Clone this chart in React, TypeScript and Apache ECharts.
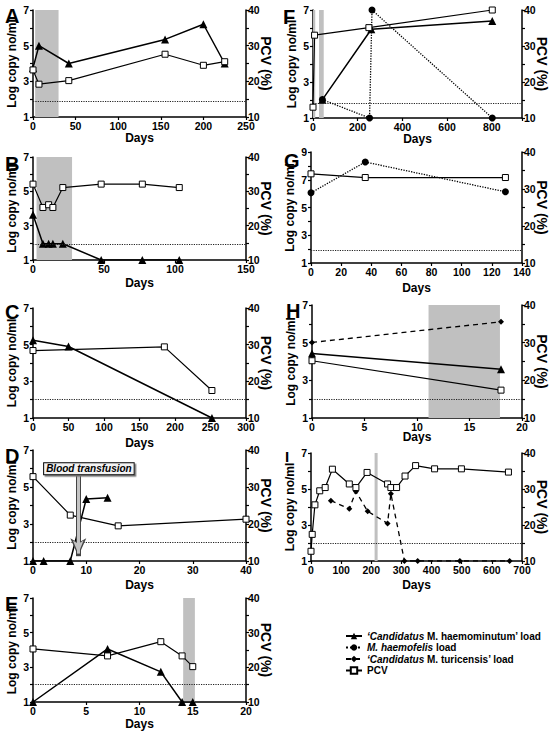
import React, { useEffect, useRef } from 'react';
import * as echarts from 'echarts';

const FONT = "'Liberation Sans', Arial, Helvetica, sans-serif";

// ---------- data (day, value) ----------
// A
const A_hm = [[0, 3.75], [7, 5.0], [42, 4.0], [155, 5.35], [200, 6.2], [225, 4.0]];
const A_pcv = [[0, 23.2], [7, 19.2], [42, 20.2], [155, 27.6], [200, 24.5], [225, 25.5]];
const A_bands = [[2.5, 30]];
// B
const B_hm = [[0, 3.63], [7, 1.95], [11, 1.95], [14, 1.95], [21, 1.95], [48, 1], [77, 1], [103, 1]];
const B_pcv = [[0, 32.1], [7, 25.3], [11, 26.1], [14, 25.3], [21, 31.1], [48, 32.1], [77, 32.1], [103, 31.1]];
const B_bands = [[2.5, 27.5]];
// C
const C_hm = [[0, 5.24], [50, 4.9], [252, 1]];
const C_pcv = [[0, 28.4], [185, 29.4], [252, 17.5]];
// D
const D_hm = [[0, 1], [2, 1], [7, 1], [10, 4.35], [14, 4.42]];
const D_pcv = [[0, 32.8], [7, 22.4], [16, 19.5], [40, 21.3]];
const D_transfusionDay = 8.5;
const D_transfusionLabel = 'Blood transfusion';
// E
const E_hm = [[0, 1], [7, 4.06], [12, 2.74], [14, 1], [15, 1]];
const E_pcv = [[0, 25.3], [7, 23.3], [12, 27.4], [14, 23.3], [15, 20.2]];
const E_bands = [[14.1, 15.2]];
// F
const F_hm = [[42, 2.02], [261, 5.93], [802, 6.39]];
const F_hf = [[42, 2.02], [253, 1], [264, 7], [802, 1]];
const F_pcv = [[0, 13], [7, 33], [250, 35.1], [802, 40]];
const F_bands = [[0, 10], [27, 48]];
// G
const G_hf = [[0, 6.06], [36, 8.28], [129, 6.13]];
const G_pcv = [[0, 34.1], [36, 33.1], [129, 33.1]];
// H
const H_tu = [[0, 5.01], [18, 6.11]];
const H_hm = [[0, 4.43], [18, 3.59]];
const H_pcv = [[0, 25.2], [18, 17.4]];
const H_bands = [[11.1, 17.9]];
// I
const I_pcv = [
  [0, 12.7], [4, 17.4], [13, 25.6], [29, 29.5], [47, 30.4], [71, 35.5], [127, 31.4], [149, 30.4],
  [186, 34.6], [254, 31.4], [265, 30.4], [284, 30.4], [312, 33.6], [347, 36.5], [410, 35.6], [499, 35.6], [655, 34.7],
];
const I_tu = [[66, 4.35], [127, 3.9], [149, 4.86], [188, 3.76], [254, 3.09], [265, 4.74], [310, 1], [354, 1], [494, 1], [659, 1]];
const I_bands = [[211, 221]];

const LEGEND_NAMES = ['hm', 'hf', 'tu', 'pcv'];
const LEGEND_TEXT: Record<string, string> = {
  hm: '{i|‘Candidatus}{b| M. haemominutum’ load}',
  hf: '{i|M. haemofelis}{b| load}',
  tu: '{i|‘Candidatus}{b| M. turicensis’ load}',
  pcv: '{b|PCV}',
};

// ---------- panel layout ----------
const PANELS: any[] = [
  { id: 'A', grid: { left: 33, top: 10, width: 213, height: 107 }, xMax: 250, xStep: 50, yMax: 7, daysGap: 15, lod: 1.9, bands: A_bands, hm: A_hm, pcv: A_pcv, letter: [5, 6, 20] },
  { id: 'B', grid: { left: 33, top: 157, width: 213, height: 103 }, xMax: 150, xStep: 50, yMax: 7, daysGap: 17, lod: 1.92, bands: B_bands, hm: B_hm, pcv: B_pcv, letter: [5, 154, 20] },
  { id: 'C', grid: { left: 33, top: 308, width: 213, height: 110 }, xMax: 300, xStep: 50, yMax: 7, daysGap: 19, lod: 2, bands: [], hm: C_hm, pcv: C_pcv, letter: [5, 302, 20] },
  { id: 'D', grid: { left: 33, top: 450, width: 213, height: 111 }, xMax: 40, xStep: 10, yMax: 7, daysGap: 18, lod: 2, bands: [], hm: D_hm, pcv: D_pcv, letter: [5, 446, 20], transfusion: true },
  { id: 'E', grid: { left: 33, top: 598, width: 213, height: 104 }, xMax: 20, xStep: 5, yMax: 7, daysGap: 16, lod: 2, bands: E_bands, hm: E_hm, pcv: E_pcv, letter: [5, 594, 20] },
  { id: 'F', grid: { left: 313, top: 10, width: 209, height: 108 }, xMax: 935, xStep: 200, yMax: 7, daysGap: 15, lod: 1.8, bands: F_bands, hm: F_hm, hf: F_hf, pcv: F_pcv, letter: [283, 7, 20] },
  { id: 'G', grid: { left: 311, top: 152, width: 211, height: 111 }, xMax: 140, xStep: 20, yMax: 9, daysGap: 19, lod: 1.95, bands: [], hf: G_hf, pcv: G_pcv, letter: [284, 151, 20] },
  { id: 'H', grid: { left: 312, top: 305, width: 210, height: 113 }, xMax: 20, xStep: 5, yMax: 7, daysGap: 13, lod: 2, bands: H_bands, tu: H_tu, hm: H_hm, pcv: H_pcv, letter: [286, 301, 20] },
  { id: 'I', grid: { left: 311, top: 453, width: 211, height: 108 }, xMax: 700, xStep: 100, yMax: 7, daysGap: 18, lod: 2, bands: I_bands, tu: I_tu, pcv: I_pcv, letter: [285, 449, 15] },
];

const black = '#000';
const labelStyle = { color: black, fontFamily: FONT, fontWeight: 'bold' as const, fontSize: 10.5 };
const nameStyle = { color: black, fontFamily: FONT, fontWeight: 'bold' as const };

function buildOption() {
  const grid: any[] = [];
  const xAxis: any[] = [];
  const yAxis: any[] = [];
  const series: any[] = [];
  const graphic: any[] = [];

  PANELS.forEach((p, i) => {
    grid.push({ ...p.grid, containLabel: false, outerBoundsMode: 'none' });
    const step = p.xStep;
    xAxis.push({
      gridIndex: i, type: 'value', min: 0, max: p.xMax, interval: step,
      axisLine: { show: true, onZero: false, lineStyle: { color: black, width: 1.5 } },
      axisTick: { show: true, length: 3, lineStyle: { color: black, width: 1.2 } },
      axisLabel: { ...labelStyle, margin: 3, formatter: (v: number) => (v % step === 0 ? String(v) : '') },
      splitLine: { show: false },
      name: 'Days', nameLocation: 'middle', nameGap: p.daysGap, nameMoveOverlap: false,
      nameTextStyle: { ...nameStyle, fontSize: 12 },
    });
    yAxis.push({
      gridIndex: i, type: 'value', position: 'left', min: 1, max: p.yMax, interval: 1,
      axisLine: { show: true, onZero: false, lineStyle: { color: black, width: 1.5 } },
      axisTick: { show: true, length: 3, lineStyle: { color: black, width: 1.2 } },
      axisLabel: { ...labelStyle, margin: 4, formatter: (v: number) => (v % 2 === 1 ? String(v) : '') },
      splitLine: { show: false },
      name: 'Log copy no/ml', nameLocation: 'middle', nameGap: 15, nameMoveOverlap: false,
      nameTextStyle: { ...nameStyle, fontSize: 12 },
    });
    yAxis.push({
      gridIndex: i, type: 'value', position: 'right', min: 10, max: 40, interval: 5,
      axisLine: { show: true, onZero: false, lineStyle: { color: black, width: 1.5 } },
      axisTick: { show: true, length: 3, lineStyle: { color: black, width: 1.2 } },
      axisLabel: { ...labelStyle, margin: 2, formatter: (v: number) => (v % 10 === 0 ? String(v) : '') },
      splitLine: { show: false },
      name: 'PCV (%)', nameLocation: 'middle', nameGap: 13, nameRotate: -90, nameMoveOverlap: false,
      nameTextStyle: { ...nameStyle, fontSize: 14 },
    });

    const left = 2 * i;
    const right = 2 * i + 1;
    const leftSeries: any[] = [];

    if (p.hm) {
      leftSeries.push({
        type: 'line', name: 'hm', xAxisIndex: i, yAxisIndex: left, data: p.hm,
        symbol: 'triangle', symbolSize: 8, z: 4,
        lineStyle: { color: black, width: 1.5, type: 'solid' },
        itemStyle: { color: black },
      });
    }
    if (p.hf) {
      leftSeries.push({
        type: 'line', name: 'hf', xAxisIndex: i, yAxisIndex: left, data: p.hf,
        symbol: 'circle', symbolSize: 7, z: 4,
        lineStyle: { color: black, width: 1.3, type: 'dotted' },
        itemStyle: { color: black },
      });
    }
    if (p.tu) {
      leftSeries.push({
        type: 'line', name: 'tu', xAxisIndex: i, yAxisIndex: left, data: p.tu,
        symbol: 'diamond', symbolSize: 6, z: 4,
        lineStyle: { color: black, width: 1.3, type: [5, 4] },
        itemStyle: { color: black },
      });
    }
    const first = leftSeries[0];
    first.markLine = {
      silent: true, symbol: ['none', 'none'], label: { show: false },
      lineStyle: { color: '#222', width: 1.2, type: 'dotted' },
      data: [{ yAxis: p.lod }],
    };
    if (p.bands.length) {
      first.markArea = {
        silent: true,
        itemStyle: { color: '#c0c0c0' },
        data: p.bands.map((b: number[]) => [{ xAxis: b[0] }, { xAxis: b[1] }]),
      };
    }
    series.push(...leftSeries);

    const pcvSeries: any = {
      type: 'line', name: 'pcv', xAxisIndex: i, yAxisIndex: right, data: p.pcv,
      symbol: 'rect', symbolSize: 6, z: 5,
      lineStyle: { color: black, width: 1.2 },
      itemStyle: { color: '#fff', borderColor: black, borderWidth: 1 },
    };
    if (p.transfusion) {
      const d = D_transfusionDay;
      pcvSeries.markLine = {
        silent: true, label: { show: false }, z: 6,
        data: [
          [
            { coord: [d, 33.2], symbol: 'none', lineStyle: { color: '#444', width: 5, type: 'solid' } },
            { coord: [d, 11.3], symbol: 'arrow', symbolSize: [12, 18] },
          ],
          [
            { coord: [d, 33.0], symbol: 'none', lineStyle: { color: '#c4c4c4', width: 3, type: 'solid' } },
            { coord: [d, 12.0], symbol: 'arrow', symbolSize: [8, 13] },
          ],
        ],
      };
      pcvSeries.markPoint = {
        silent: true, z: 7,
        data: [{
          coord: [10.5, 34.9], symbol: 'rect', symbolSize: [1, 1],
          itemStyle: { color: 'rgba(0,0,0,0)' },
          label: {
            show: true, position: 'inside', formatter: D_transfusionLabel,
            fontFamily: FONT, fontSize: 10, fontStyle: 'italic', fontWeight: 'bold', color: black,
            backgroundColor: '#f2f2f2', borderColor: '#000', borderWidth: 1, padding: [1, 2, 0, 2],
            shadowColor: '#777', shadowOffsetX: 1.5, shadowOffsetY: 1.5,
          },
        }],
      };
    }
    series.push(pcvSeries);

    graphic.push({
      type: 'text', left: p.letter[0], top: p.letter[1], z: 10,
      style: { text: p.id, font: `bold ${p.letter[2]}px ${FONT}`, fill: black },
    });
  });

  return {
    animation: false,
    backgroundColor: '#fff',
    grid, xAxis, yAxis, series, graphic,
    legend: {
      data: LEGEND_NAMES, orient: 'vertical', left: 340, top: 626,
      itemWidth: 16, itemHeight: 8, itemGap: 1.5, selectedMode: false,
      formatter: (name: string) => LEGEND_TEXT[name],
      textStyle: {
        fontFamily: FONT, fontSize: 10, color: black,
        rich: {
          i: { fontFamily: FONT, fontSize: 10, fontStyle: 'italic', fontWeight: 'bold', color: black },
          b: { fontFamily: FONT, fontSize: 10, fontWeight: 'bold', color: black },
        },
      },
    },
  };
}

export default function App() {
  const ref = useRef<HTMLDivElement>(null);
  useEffect(() => {
    const chart = echarts.init(ref.current as HTMLDivElement, null, { renderer: 'svg' });
    chart.setOption(buildOption() as any);
    return () => chart.dispose();
  }, []);
  return (
    <div
      ref={ref}
      style={{ position: 'absolute', left: 0, top: 0, width: 560, height: 735, background: '#fff' }}
    />
  );
}
